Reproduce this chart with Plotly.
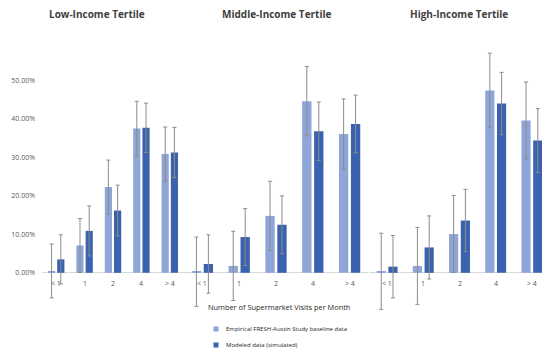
import plotly.graph_objects as go
import html

categories = ["< 1", "1", "2", "4", "> 4"]
panel_titles = ["Low-Income Tertile", "Middle-Income Tertile", "High-Income Tertile"]
series_names = ["Empirical FRESH-Austin Study baseline data", "Modeled data (simulated)"]

low_empirical = [0.5, 7.1, 22.3, 37.5, 30.9]
low_empirical_err = [7.0, 7.0, 7.0, 7.1, 7.0]
low_modeled = [3.5, 10.9, 16.2, 37.7, 31.3]
low_modeled_err = [6.4, 6.5, 6.6, 6.4, 6.5]

mid_empirical = [0.3, 1.8, 14.8, 44.6, 36.1]
mid_empirical_err = [9.0, 9.0, 9.0, 9.0, 9.1]
mid_modeled = [2.3, 9.3, 12.5, 36.8, 38.7]
mid_modeled_err = [7.6, 7.4, 7.5, 7.6, 7.5]

high_empirical = [0.4, 1.8, 10.1, 47.4, 39.6]
high_empirical_err = [9.9, 10.0, 10.0, 9.7, 10.0]
high_modeled = [1.6, 6.6, 13.6, 44.0, 34.4]
high_modeled_err = [8.1, 8.2, 8.1, 8.1, 8.3]

y_ticks = [0, 10, 20, 30, 40, 50]

LIGHT = "#8EA5D8"
DARK = "#3B62AE"
ERR = "#8C8C8C"
TXT = "#595959"

panels = [
    (low_empirical, low_empirical_err, low_modeled, low_modeled_err),
    (mid_empirical, mid_empirical_err, mid_modeled, mid_modeled_err),
    (high_empirical, high_empirical_err, high_modeled, high_modeled_err),
]
xaxes = ["x", "x2", "x3"]

fig = go.Figure()
for (emp, emp_err, mod, mod_err), xa in zip(panels, xaxes):
    fig.add_trace(go.Bar(
        x=categories, y=emp, xaxis=xa, yaxis="y", name=series_names[0],
        marker=dict(color=LIGHT, line=dict(width=0)), showlegend=False,
        error_y=dict(type="data", array=emp_err, visible=True, color=ERR, thickness=1, width=2),
    ))
    fig.add_trace(go.Bar(
        x=categories, y=mod, xaxis=xa, yaxis="y", name=series_names[1],
        marker=dict(color=DARK, line=dict(width=0)), showlegend=False,
        error_y=dict(type="data", array=mod_err, visible=True, color=ERR, thickness=1, width=2),
    ))

OFF = 8  # page body margin
W, H = 550 - OFF, 351 - OFF
mt, mb = 34, 32

def fx(px):
    return (px - OFF) / W

def py(px):
    return (H - mb - (px - OFF)) / (H - mt - mb)

domains = [[fx(42), fx(184)], [fx(184), fx(368)], [fx(369), 1.0]]

axis_common = dict(showline=False, showgrid=False, zeroline=False, showticklabels=False,
                   ticks="", anchor="y", type="category", fixedrange=True)
fig.update_layout(
    width=W, height=H, margin=dict(l=0, r=0, t=mt, b=mb),
    paper_bgcolor="white", plot_bgcolor="white",
    barmode="group", bargap=0.35, bargroupgap=0.22,
    font=dict(family="Open Sans", color=TXT),
    xaxis=dict(domain=domains[0], **axis_common),
    xaxis2=dict(domain=domains[1], **axis_common),
    xaxis3=dict(domain=domains[2], **axis_common),
    yaxis=dict(range=[-12, 60], tickvals=y_ticks, ticktext=[f"{v:.2f}%" for v in y_ticks],
               showgrid=False, showline=False, zeroline=True, zerolinecolor="#D9D9D9",
               zerolinewidth=1, anchor="x", tickfont=dict(size=7, color=TXT), ticks="",
               ticklabelstandoff=6),
)

annotations = []
for xa in xaxes:
    for i, c in enumerate(categories):
        annotations.append(dict(x=i, y=-2.7, xref=xa, yref="y", text=html.escape(c),
                                showarrow=False, font=dict(size=7, color=TXT), yanchor="middle"))
title_centers = [97, 277, 459]
for t, cx in zip(panel_titles, title_centers):
    annotations.append(dict(x=fx(cx), y=py(14), xref="paper", yref="paper", text=f"<b>{t}</b>",
                            showarrow=False, font=dict(size=10, color="#404040", family="Open Sans"),
                            xanchor="center", yanchor="middle"))
annotations.append(dict(x=fx(279), y=py(307), xref="paper", yref="paper",
                        text="Number of Supermarket Visits per Month", showarrow=False,
                        font=dict(size=7.4, color="#262626"), xanchor="center", yanchor="middle"))
legend_rows = [(329, LIGHT, series_names[0]), (345, DARK, series_names[1])]
shapes = []
for ypx, col, name in legend_rows:
    shapes.append(dict(type="rect", xref="paper", yref="paper", x0=fx(213.5), x1=fx(218.5),
                       y0=py(ypx + 2.5), y1=py(ypx - 2.5), fillcolor=col, line=dict(width=0)))
    annotations.append(dict(x=fx(224), y=py(ypx), xref="paper", yref="paper", text=name,
                            showarrow=False, font=dict(size=6, color="#262626"),
                            xanchor="left", yanchor="middle"))
fig.update_layout(annotations=annotations, shapes=shapes)

fig.write_html("out.html")
